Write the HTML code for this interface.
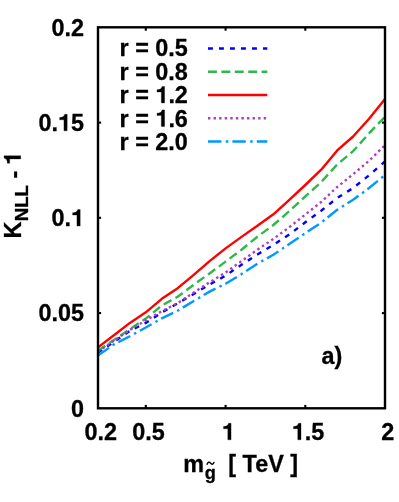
<!DOCTYPE html>
<html><head><meta charset="utf-8"><title>K_NLL - 1</title>
<style>
html,body{margin:0;padding:0;background:#fff;}
body{width:399px;height:502px;overflow:hidden;}
svg{display:block;will-change:transform}
text{font-family:"Liberation Sans",sans-serif;font-weight:bold;fill:#000;stroke:#000;stroke-width:0.3px;}
.c{fill:none;stroke-width:2.4;stroke-linejoin:round}
</style></head><body>
<svg width="399" height="502" viewBox="0 0 399 502">
<rect width="399" height="502" fill="#fff"/>
<!-- curves -->
<polyline class="c" stroke="#0000ff" stroke-dasharray="4.9 6.1" points="98.0,352.6 113.9,341.8 129.9,330.9 145.8,322.9 161.8,312.6 177.7,303.3 193.7,294.0 209.6,284.5 225.6,275.6 241.5,264.7 257.4,254.5 273.4,244.8 289.3,234.5 305.3,222.3 321.2,210.7 337.2,198.0 353.1,188.0 369.1,175.3 385.0,161.5"/>
<polyline class="c" stroke="#2eb84c" stroke-dasharray="8.9 4.5" points="98.0,350.7 113.9,339.9 129.9,329.1 145.8,318.6 161.8,305.5 177.7,296.7 193.7,284.8 209.6,273.4 225.6,261.6 241.5,249.7 257.4,236.7 273.4,225.0 289.3,211.2 305.3,196.4 321.2,182.1 337.2,164.4 353.1,151.2 369.1,133.3 385.0,116.7"/>
<polyline class="c" stroke="#ff0000" points="98.0,347.4 113.9,335.3 129.9,322.9 145.8,312.3 161.8,298.8 177.7,288.2 193.7,274.8 209.6,261.1 225.6,248.4 241.5,236.9 257.4,225.7 273.4,214.3 289.3,199.8 305.3,185.0 321.2,169.7 337.2,150.4 353.1,136.5 369.1,118.8 385.0,99.1"/>
<polyline class="c" stroke="#b03cbe" stroke-dasharray="2.4 3.17" points="98.0,351.6 113.9,340.8 129.9,329.8 145.8,320.4 161.8,311.2 177.7,303.1 193.7,292.5 209.6,282.3 225.6,272.5 241.5,261.1 257.4,249.7 273.4,238.9 289.3,227.2 305.3,214.5 321.2,202.0 337.2,187.0 353.1,174.3 369.1,160.7 385.0,145.2"/>
<polyline class="c" stroke="#0099ff" stroke-dasharray="13.4 4.4 2.5 4.1" points="98.0,355.6 113.9,344.4 129.9,336.2 145.8,327.5 161.8,318.3 177.7,310.7 193.7,301.0 209.6,291.6 225.6,283.7 241.5,274.1 257.4,263.7 273.4,254.8 289.3,243.9 305.3,233.2 321.2,222.6 337.2,209.8 353.1,199.8 369.1,188.0 385.0,175.0"/>
<!-- legend samples -->
<line class="c" stroke="#0000ff" stroke-dasharray="4.9 6.1" x1="208.0" x2="267.3" y1="48.55" y2="48.55"/>
<line class="c" stroke="#2eb84c" stroke-dasharray="8.9 4.5" x1="208.0" x2="267.3" y1="71.7" y2="71.7"/>
<line class="c" stroke="#ff0000" x1="208.0" x2="267.3" y1="95.0" y2="95.0"/>
<line class="c" stroke="#b03cbe" stroke-dasharray="2.4 3.17" x1="208.0" x2="267.3" y1="118.3" y2="118.3"/>
<line class="c" stroke="#0099ff" stroke-dasharray="13.4 4.4 2.5 4.1" x1="208.0" x2="267.3" y1="141.5" y2="141.5"/>
<!-- frame -->
<rect x="98.0" y="27.3" width="287.0" height="381.0" fill="none" stroke="#000" stroke-width="2.4"/>
<g stroke="#000" stroke-width="2.1">
<line x1="145.8" x2="145.8" y1="408.3" y2="404.90000000000003"/><line x1="145.8" x2="145.8" y1="27.3" y2="30.7"/>
<line x1="225.6" x2="225.6" y1="408.3" y2="404.90000000000003"/><line x1="225.6" x2="225.6" y1="27.3" y2="30.7"/>
<line x1="305.3" x2="305.3" y1="408.3" y2="404.90000000000003"/><line x1="305.3" x2="305.3" y1="27.3" y2="30.7"/>
<line x1="98.0" x2="101.1" y1="313.1" y2="313.1"/><line x1="385.0" x2="381.9" y1="313.1" y2="313.1"/>
<line x1="98.0" x2="101.1" y1="217.8" y2="217.8"/><line x1="385.0" x2="381.9" y1="217.8" y2="217.8"/>
<line x1="98.0" x2="101.1" y1="122.6" y2="122.6"/><line x1="385.0" x2="381.9" y1="122.6" y2="122.6"/>
</g>
<text x="70.99" y="416.60" font-size="23.4" xml:space="preserve">0</text>
<text x="38.46" y="321.35" font-size="23.4" xml:space="preserve">0.05</text>
<text x="51.47" y="226.10" font-size="23.4" xml:space="preserve">0.</text>
<path d="M394,0H254V471H70V570C180,572 262,600 290,710H394Z" transform="translate(70.99 226.10) scale(0.02340 -0.02340)" stroke="#000" stroke-width="12"/>
<text x="38.46" y="130.85" font-size="23.4" xml:space="preserve">0.</text>
<path d="M394,0H254V471H70V570C180,572 262,600 290,710H394Z" transform="translate(57.98 130.85) scale(0.02340 -0.02340)" stroke="#000" stroke-width="12"/>
<text x="70.99" y="130.85" font-size="23.4" xml:space="preserve">5</text>
<text x="51.47" y="35.60" font-size="23.4" xml:space="preserve">0.2</text>
<text x="84.54" y="439.80" font-size="23.4" xml:space="preserve">0.2</text>
<text x="132.37" y="439.80" font-size="23.4" xml:space="preserve">0.5</text>
<path d="M394,0H254V471H70V570C180,572 262,600 290,710H394Z" transform="translate(221.85 439.80) scale(0.02340 -0.02340)" stroke="#000" stroke-width="12"/>
<path d="M394,0H254V471H70V570C180,572 262,600 290,710H394Z" transform="translate(291.81 439.80) scale(0.02340 -0.02340)" stroke="#000" stroke-width="12"/>
<text x="304.83" y="439.80" font-size="23.4" xml:space="preserve">.5</text>
<text x="381.29" y="439.80" font-size="23.4" xml:space="preserve">2</text>
<text x="119.60" y="56.00" font-size="23.4" xml:space="preserve">r = 0.5</text>
<text x="119.60" y="79.50" font-size="23.4" xml:space="preserve">r = 0.8</text>
<text x="119.60" y="103.00" font-size="23.4" xml:space="preserve">r = </text>
<path d="M394,0H254V471H70V570C180,572 262,600 290,710H394Z" transform="translate(155.38 103.00) scale(0.02340 -0.02340)" stroke="#000" stroke-width="12"/>
<text x="168.39" y="103.00" font-size="23.4" xml:space="preserve">.2</text>
<text x="119.60" y="126.50" font-size="23.4" xml:space="preserve">r = </text>
<path d="M394,0H254V471H70V570C180,572 262,600 290,710H394Z" transform="translate(155.38 126.50) scale(0.02340 -0.02340)" stroke="#000" stroke-width="12"/>
<text x="168.39" y="126.50" font-size="23.4" xml:space="preserve">.6</text>
<text x="119.60" y="150.00" font-size="23.4" xml:space="preserve">r = 2.0</text>
<text x="321.4" y="364" font-size="23.4">a)</text>
<text x="183.3" y="472.4" font-size="23.4">m</text>
<text x="204.8" y="479.2" font-size="18.2">g</text>
<text x="228.3" y="472.4" font-size="23.4" xml:space="preserve">[ TeV ]</text>
<path d="M206.9 464.7 C207.8 461.6 209.6 461.7 210.6 463.2 S213.2 464.9 214.2 461.9" fill="none" stroke="#000" stroke-width="1.4"/>
<g font-size="23.4">
<text transform="translate(21.0 238.4) rotate(-90)">K</text>
<text transform="translate(27.9 221.3) rotate(-90)" font-size="18.7">NLL</text>
<text transform="translate(21.5 178.5) rotate(-90)">-</text>
<path d="M394,0H254V471H70V570C180,572 262,600 290,710H394Z" transform="translate(20.7 164.9) rotate(-90) scale(0.02340 -0.02340)" stroke="#000" stroke-width="12"/>
</g>
</svg>
</body></html>
